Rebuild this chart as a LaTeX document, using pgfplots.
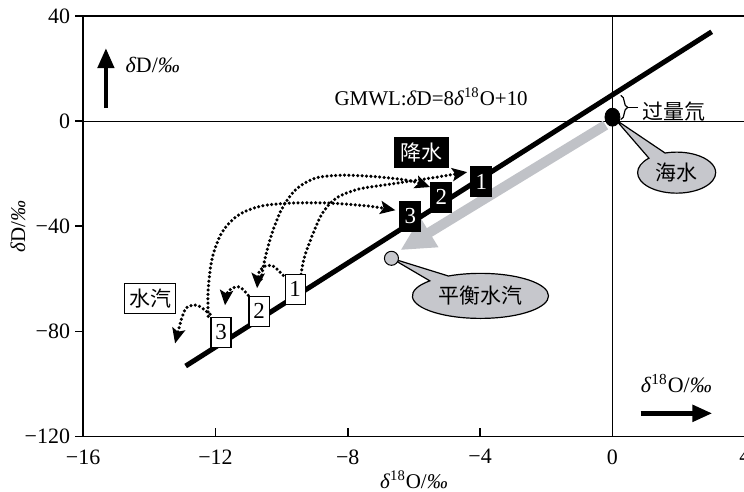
\documentclass[border=0pt]{standalone}
\usepackage{fontspec}
\setmainfont{Liberation Serif}
\newfontfamily\cjk{Noto Sans CJK SC}
\usepackage{pgfplots}
\pgfplotsset{compat=1.18}
\usetikzlibrary{arrows.meta,shapes.callouts,shapes.geometric,decorations.pathreplacing}
\definecolor{lgray}{RGB}{192,194,199}
\definecolor{cgray}{RGB}{198,199,204}
\tikzset{
  dots/.style={black, line width=1.75bp, line cap=round, dash pattern=on 0pt off 2.2bp,
    -{Stealth[length=7.5bp,width=6.5bp,inset=1.5bp]}, no marks, smooth},
  wbox/.style={draw=black, fill=white, line width=0.6bp, minimum width=10bp, minimum height=15bp, inner sep=0pt,
    font=\fontsize{11.5}{12}\selectfont},
  bbox/.style={fill=black, text=white, minimum width=11bp, minimum height=15.5bp, inner sep=0pt,
    font=\fontsize{11.5}{12}\selectfont},
}
\begin{document}
\begin{tikzpicture}
\begin{axis}[
  scale only axis, width=330.5bp, height=210bp,
  xmin=-16, xmax=4, ymin=-120, ymax=40,
  clip=false,
  axis line style={line width=0.8bp},
  xtick={-16,-12,-8,-4,0,4}, xticklabels={−16,−12,−8,−4,0,4},
  ytick={-120,-80,-40,0,40}, yticklabels={−120,−80,−40,0,40},
  xtick pos=bottom, ytick pos=left,
  tick align=inside, major tick length=4bp,
  tick style={black, line width=0.8bp},
  ytick style={xshift=-4bp},
  ticklabel style={font=\fontsize{11}{13}\selectfont},
  yticklabel style={xshift=-3bp},
  xticklabel style={yshift=-3bp},
  xlabel={\textit{δ}\textsuperscript{18}O/\textit{‰}},
  ylabel={\textit{δ}D/\textit{‰}},
  label style={font=\fontsize{10.5}{12}\selectfont},
  xlabel style={at={([yshift=-21.5bp]rel axis cs:0.5,0)}, anchor=center},
  ylabel style={at={([xshift=-32.5bp]rel axis cs:0,0.5)}, anchor=center},
]
% reference lines
\addplot[black, line width=0.6bp, no marks] coordinates {(-16,0)(4,0)};
\addplot[black, line width=0.6bp, no marks] coordinates {(0,-120)(0,40)};
% grey arrow (equilibrium vapour trend)
\addplot[lgray, line width=5bp, no marks, -{Triangle[length=17bp,width=16bp]}] coordinates {(-0.21,-1.5)(-6.41,-49.1)};
% GMWL
\addplot[black, line width=2.5bp, no marks] coordinates {(-12.9,-93.2)(3.0,34.0)};
% dotted paths vapour -> precipitation
\addplot[dots] coordinates {(-9.41,-58.3)(-9.32,-52.2)(-9.07,-43.4)(-8.77,-35.1)(-8.35,-29.3)(-7.68,-25.9)(-6.72,-24.0)(-5.51,-21.7)(-4.39,-19.4)};
\addplot[dots] coordinates {(-10.62,-60.2)(-10.50,-52.2)(-10.28,-42.3)(-9.98,-33.1)(-9.56,-25.9)(-8.98,-21.7)(-8.23,-20.6)(-7.32,-21.0)(-6.41,-22.1)(-5.96,-23.2)(-5.51,-25.1)};
\addplot[dots] coordinates {(-12.22,-74.3)(-12.22,-64.4)(-12.10,-52.2)(-11.80,-42.3)(-11.31,-35.8)(-10.65,-32.4)(-9.74,-31.2)(-8.53,-31.2)(-7.32,-32.4)(-6.56,-33.9)};
% small arcs vapour -> vapour
\addplot[dots] coordinates {(-9.95,-58.7)(-10.25,-55.2)(-10.50,-55.2)(-10.68,-57.5)(-10.74,-63.6)};
\addplot[dots] coordinates {(-11.01,-66.3)(-11.25,-63.2)(-11.49,-63.6)(-11.65,-65.5)(-11.71,-70.1)};
\addplot[dots] coordinates {(-12.16,-73.5)(-12.55,-70.1)(-12.86,-70.9)(-13.01,-74.7)(-13.22,-84.6)};
% boxes
\node[wbox] at (axis cs:-9.59,-64.0) {1};
\node[wbox] at (axis cs:-10.68,-72.4) {2};
\node[wbox] at (axis cs:-11.83,-80.4) {3};
\node[bbox] at (axis cs:-3.96,-23.0) {1};
\node[bbox] at (axis cs:-5.17,-29.0) {2};
\node[bbox] at (axis cs:-6.11,-36.2) {3};
\node[draw=black, fill=white, line width=0.6bp, minimum width=25.5bp, minimum height=15bp, inner sep=0pt,
  font=\cjk\fontsize{10.5}{11}\selectfont] at (axis cs:-13.97,-67.4) {水汽};
\node[fill=black, text=white, minimum width=27.5bp, minimum height=15.5bp, inner sep=0pt,
  font=\cjk\fontsize{10.5}{11}\selectfont] at (axis cs:-5.78,-11.8) {降水};
% callouts
\node[ellipse callout, draw=black, fill=cgray, line width=0.6bp, minimum width=39bp, minimum height=20.5bp, inner sep=0pt,
  callout absolute pointer={(axis cs:0.1,0.5)}, callout pointer arc=28,
  font=\cjk\fontsize{10.5}{11}\selectfont] at (axis cs:1.94,-19.6) {海水};
\node[ellipse callout, draw=black, fill=cgray, line width=0.6bp, minimum width=68bp, minimum height=22.5bp, inner sep=0pt,
  callout absolute pointer={(axis cs:-6.68,-52.2)}, callout pointer arc=20,
  font=\cjk\fontsize{10.5}{11}\selectfont] at (axis cs:-3.99,-66.5) {平衡水汽};
% points
\addplot[only marks, mark=*, mark size=3.75bp, mark options={fill=black, draw=black, yscale=1.2}] coordinates {(0,1.5)};
\addplot[only marks, mark=*, mark size=3.5bp, mark options={fill=cgray, draw=black, line width=0.5bp}] coordinates {(-6.68,-52.2)};
% deuterium excess brace
\draw[decorate, decoration={brace, amplitude=3.5bp}, line width=0.6bp] (axis cs:0.25,9.8) -- (axis cs:0.25,0.6);
\addplot[black, line width=0.6bp, no marks] coordinates {(0.47,5.2)(0.78,5.2)};
\node[anchor=west, inner sep=0pt, font=\cjk\fontsize{10.5}{11}\selectfont] at (axis cs:0.91,3.8) {过量氘};
% equation
\node[font=\fontsize{10.5}{12}\selectfont] at (axis cs:-5.48,9.1) {GMWL:\textit{δ}D=8\textit{δ}\textsuperscript{18}O+10};
% direction arrows
\addplot[black, line width=2.2bp, no marks, -{Triangle[length=10bp,width=8bp]}] coordinates {(-15.31,4.95)(-15.31,27.8)};
\node[anchor=west, inner sep=0pt, font=\fontsize{11}{13}\selectfont] at (axis cs:-14.73,21.3) {\textit{δ}D/\textit{‰}};
\addplot[black, line width=2.6bp, no marks, -{Triangle[length=10bp,width=8bp]}] coordinates {(0.85,-111.2)(3.02,-111.2)};
\node[anchor=west, inner sep=0pt, font=\fontsize{11}{13}\selectfont] at (axis cs:0.85,-99.8) {\textit{δ}\textsuperscript{18}O/\textit{‰}};
\end{axis}
\pgfresetboundingbox
\path[use as bounding box] ([xshift=-41.5bp,yshift=-27.5bp]current axis.south west) rectangle ([xshift=-0.4bp,yshift=8bp]current axis.north east);
\end{tikzpicture}
\end{document}
